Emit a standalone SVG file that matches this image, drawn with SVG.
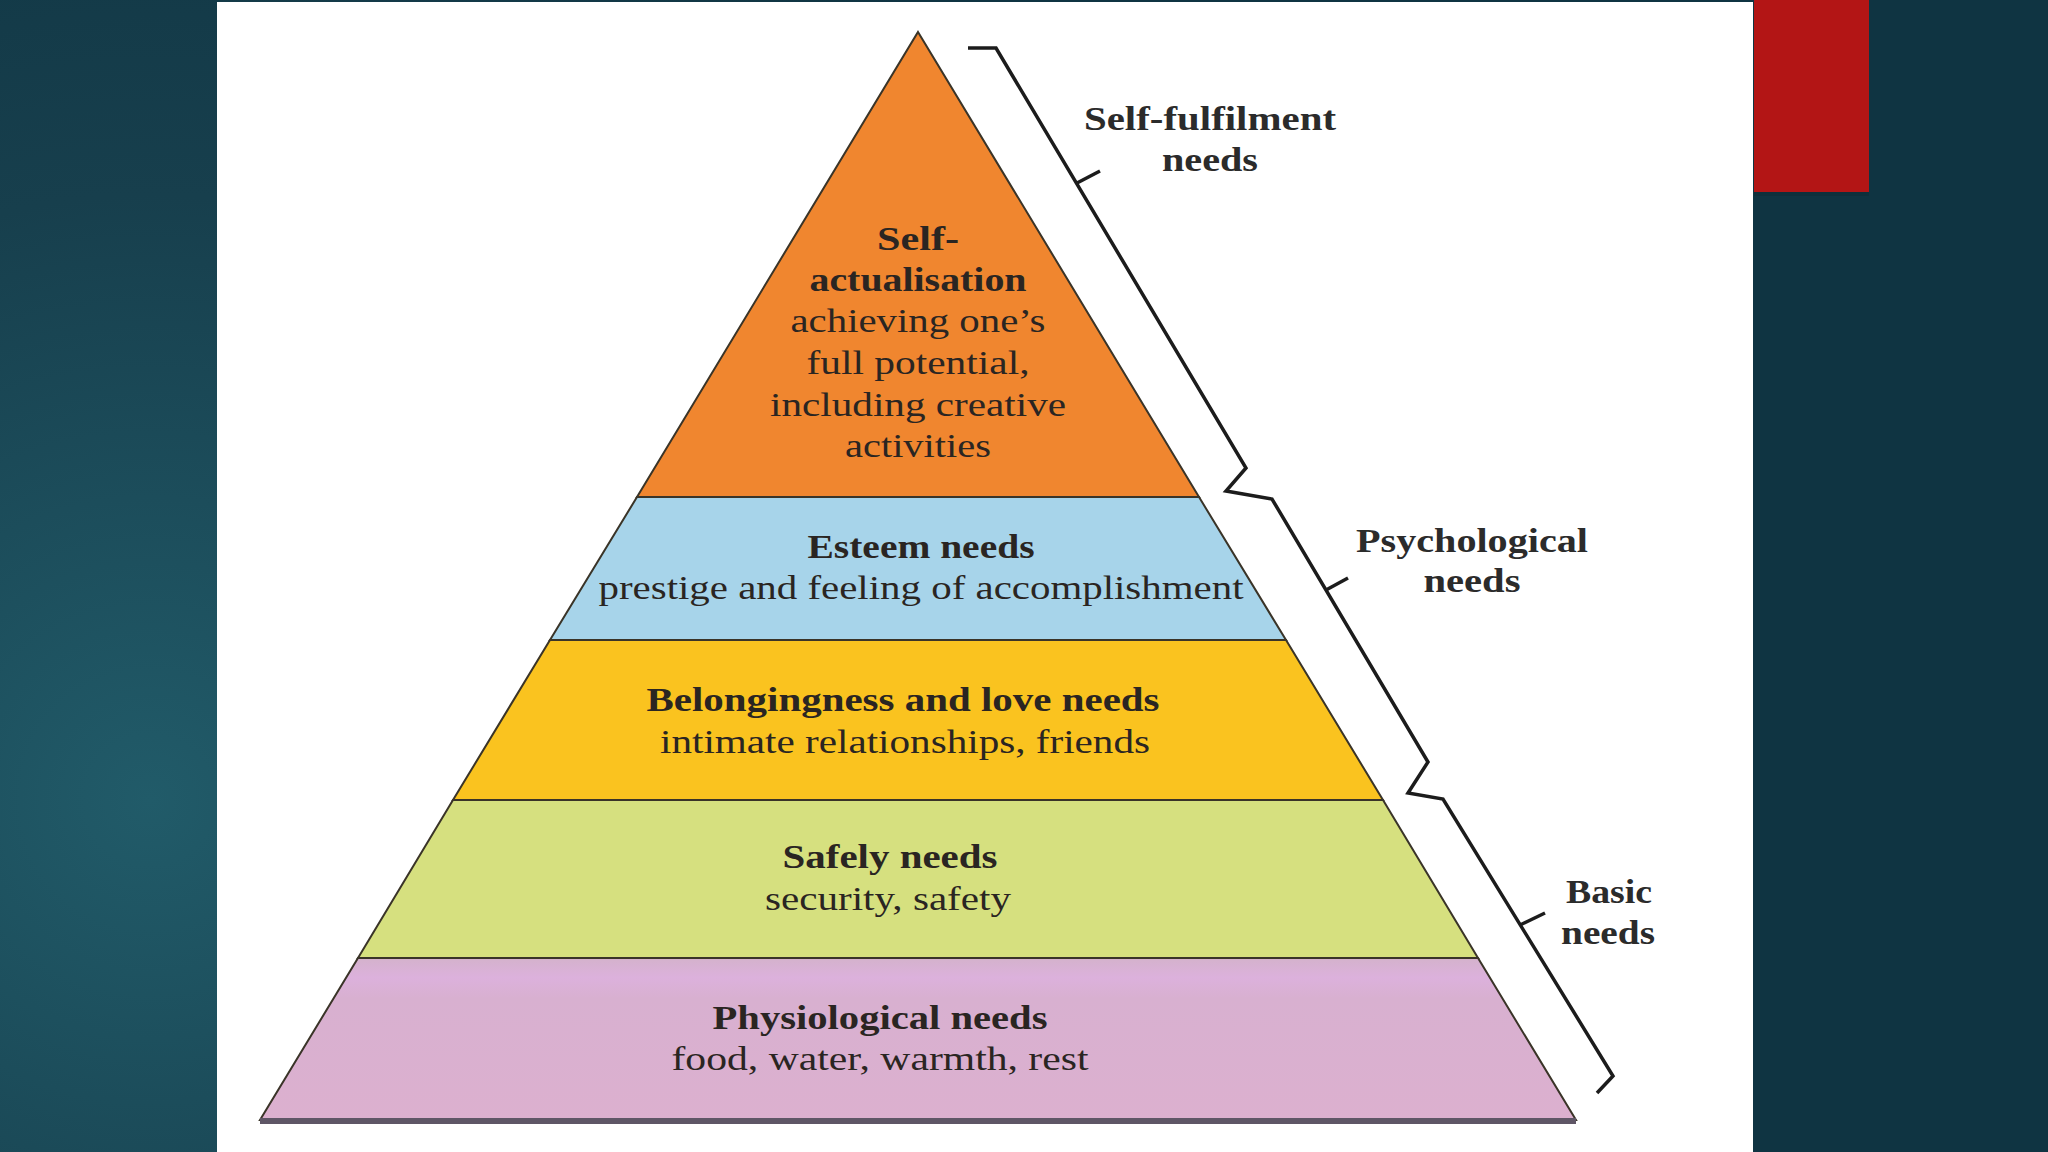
<svg xmlns="http://www.w3.org/2000/svg" width="2048" height="1152" viewBox="0 0 2048 1152">
  <defs>
    <radialGradient id="bg" cx="150" cy="800" r="1100" gradientUnits="userSpaceOnUse">
      <stop offset="0" stop-color="#215b69"/>
      <stop offset="0.55" stop-color="#173f4d"/>
      <stop offset="1" stop-color="#0f3442"/>
    </radialGradient>
    <linearGradient id="pinkGrad" x1="0" y1="958" x2="0" y2="1120" gradientUnits="userSpaceOnUse">
      <stop offset="0" stop-color="#d4b2cc"/>
      <stop offset="0.12" stop-color="#dcb1dc"/>
      <stop offset="0.25" stop-color="#d8b0d0"/>
      <stop offset="1" stop-color="#dcb0cf"/>
    </linearGradient>
    <style>
      .layer { stroke: #3a3428; stroke-width: 2; stroke-linejoin: miter; }
      .t { font-family: "Liberation Serif", "DejaVu Serif", serif; font-size: 33px; text-anchor: middle; fill: #2a2522; }
      .b { font-weight: bold; }
      .lbl { font-family: "Liberation Serif", "DejaVu Serif", serif; font-size: 33px; font-weight: bold; text-anchor: middle; fill: #2b2b2b; }
      .brace { fill: none; stroke: #1c1c1c; stroke-width: 3.5; stroke-linejoin: miter; stroke-linecap: butt; }
    </style>
  </defs>

  <!-- background -->
  <rect x="0" y="0" width="2048" height="1152" fill="url(#bg)"/>
  <rect x="217" y="2" width="1536" height="1150" fill="#ffffff"/>
  <rect x="1754" y="4" width="115" height="192" fill="#0d2a33" opacity="0.5"/>
  <rect x="1754" y="0" width="115" height="192" fill="#b31515"/>

  <!-- pyramid layers -->
  <g id="self-actualisation">
    <polygon class="layer" points="918,32 1199,497 637,497" fill="#f0862f"/>
    <text class="t b" x="918" y="250" textLength="82" lengthAdjust="spacingAndGlyphs">Self-</text>
    <text class="t b" x="918" y="291" textLength="217" lengthAdjust="spacingAndGlyphs">actualisation</text>
    <text class="t" x="918" y="332" textLength="255" lengthAdjust="spacingAndGlyphs">achieving one’s</text>
    <text class="t" x="918" y="374" textLength="223" lengthAdjust="spacingAndGlyphs">full potential,</text>
    <text class="t" x="918" y="416" textLength="296" lengthAdjust="spacingAndGlyphs">including creative</text>
    <text class="t" x="918" y="457" textLength="146" lengthAdjust="spacingAndGlyphs">activities</text>
  </g>

  <g id="esteem">
    <polygon class="layer" points="637,497 1199,497 1286,640 550,640" fill="#a7d4ea"/>
    <text class="t b" x="921" y="558" textLength="227" lengthAdjust="spacingAndGlyphs" fill="#1f2a35">Esteem needs</text>
    <text class="t" x="921" y="599" textLength="645" lengthAdjust="spacingAndGlyphs" fill="#1f2a35">prestige and feeling of accomplishment</text>
  </g>

  <g id="belongingness">
    <polygon class="layer" points="550,640 1286,640 1383,800 453,800" fill="#fac31f"/>
    <text class="t b" x="903" y="711" textLength="513" lengthAdjust="spacingAndGlyphs">Belongingness and love needs</text>
    <text class="t" x="905" y="753" textLength="490" lengthAdjust="spacingAndGlyphs">intimate relationships, friends</text>
  </g>

  <g id="safety">
    <polygon class="layer" points="453,800 1383,800 1478,958 358,958" fill="#d6e07f"/>
    <text class="t b" x="890" y="868" textLength="215" lengthAdjust="spacingAndGlyphs">Safely needs</text>
    <text class="t" x="888" y="910" textLength="246" lengthAdjust="spacingAndGlyphs">security, safety</text>
  </g>

  <g id="physiological">
    <polygon class="layer" points="358,958 1478,958 1576,1120 260,1120" fill="url(#pinkGrad)"/>
    <line x1="260" y1="1121" x2="1576" y2="1121" stroke="#5f5666" stroke-width="6"/>
    <text class="t b" x="880" y="1029" textLength="335" lengthAdjust="spacingAndGlyphs" fill="#2e2230">Physiological needs</text>
    <text class="t" x="880" y="1070" textLength="417" lengthAdjust="spacingAndGlyphs" fill="#2e2230">food, water, warmth, rest</text>
  </g>

  <!-- connectors: grouping brace -->
  <g id="connectors">
    <path class="brace" d="M 968 48 L 996 48 L 1246 468 L 1226 491 L 1272 499 L 1428 762 L 1408 793 L 1443 799 L 1613 1076 L 1597 1093"/>
    <path class="brace" d="M 1077 183 L 1100 171"/>
    <path class="brace" d="M 1326 590 L 1348 578"/>
    <path class="brace" d="M 1520 925 L 1545 913"/>
  </g>

  <g id="group-self-fulfilment">
    <text class="lbl" x="1210" y="130" textLength="252" lengthAdjust="spacingAndGlyphs">Self-fulfilment</text>
    <text class="lbl" x="1210" y="171" textLength="96" lengthAdjust="spacingAndGlyphs">needs</text>
  </g>
  <g id="group-psychological">
    <text class="lbl" x="1472" y="552" textLength="232" lengthAdjust="spacingAndGlyphs">Psychological</text>
    <text class="lbl" x="1472" y="592" textLength="97" lengthAdjust="spacingAndGlyphs">needs</text>
  </g>
  <g id="group-basic">
    <text class="lbl" x="1609" y="903" textLength="86" lengthAdjust="spacingAndGlyphs">Basic</text>
    <text class="lbl" x="1608" y="944" textLength="94" lengthAdjust="spacingAndGlyphs">needs</text>
  </g>
</svg>
